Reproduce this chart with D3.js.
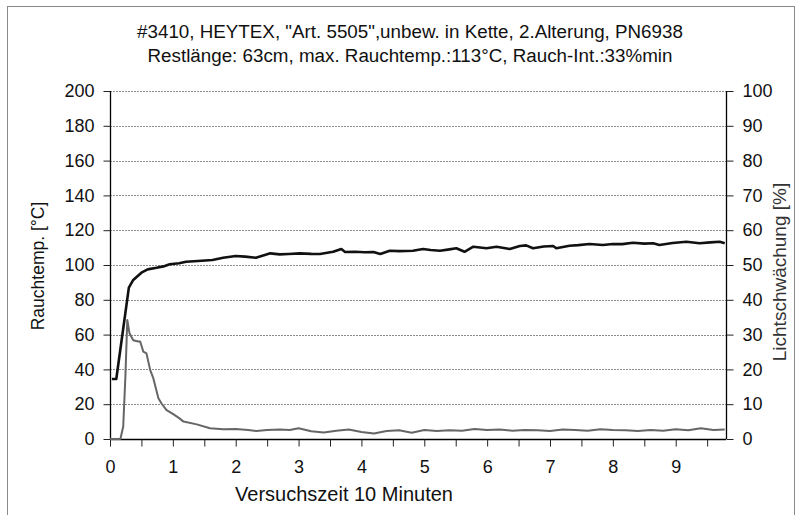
<!DOCTYPE html>
<html><head><meta charset="utf-8">
<script src="https://cdn.jsdelivr.net/npm/d3@7"></script>
<style>body{margin:0;background:#fff}svg{display:block}text{font-family:"Liberation Sans",Arial,sans-serif}</style>
</head><body>
<svg id="c" width="796" height="515"></svg>
<script>
const titleLines = ['#3410, HEYTEX, "Art. 5505",unbew. in Kette, 2.Alterung, PN6938',
  'Restlänge: 63cm, max. Rauchtemp.:113°C, Rauch-Int.:33%min'];
const xTitle = "Versuchszeit 10 Minuten";
const yLeftTitle = "Rauchtemp. [°C]";
const yRightTitle = "Lichtschwächung [%]";
const xLabels = [0,1,2,3,4,5,6,7,8,9];
const xTicks = d3.range(0, 9.51, 0.5);
const yLeftTicks = [0,20,40,60,80,100,120,140,160,180,200];
const yRightTicks = [0,10,20,30,40,50,60,70,80,90,100];

// temperature (°C) — left axis
const tempTime = [0.03,0.1,0.3,0.37,0.45,0.5,0.6,0.74,0.85,0.95,1.1,1.21,1.4,1.63,1.8,2.0,2.15,2.32,2.45,2.55,2.7,2.84,3.02,3.2,3.34,3.55,3.68,3.74,3.9,4.05,4.19,4.3,4.45,4.6,4.82,4.98,5.1,5.25,5.4,5.51,5.64,5.78,5.99,6.15,6.36,6.52,6.62,6.73,6.9,7.05,7.1,7.31,7.45,7.63,7.84,8.0,8.15,8.32,8.5,8.64,8.74,8.95,9.17,9.38,9.55,9.7,9.78];
const tempValue = [34.5,34.5,87,91.4,94,95.6,97.5,98.4,99.2,100.4,101,101.9,102.3,102.9,104.2,105.2,104.8,104.2,105.6,106.7,106.1,106.3,106.7,106.4,106.3,107.6,109.2,107.5,107.6,107.3,107.5,106.3,108.2,108.0,108.2,109.2,108.6,108.2,109.0,109.6,107.6,110.5,109.6,110.5,109.2,110.9,111.3,109.6,110.6,110.9,109.6,111.1,111.4,112.1,111.5,112.1,112.0,112.8,112.3,112.5,111.5,112.6,113.4,112.5,113.0,113.4,112.5];

// light attenuation (%) — right axis
const lightTime = [0,0.165,0.21,0.245,0.275,0.31,0.37,0.45,0.48,0.53,0.58,0.64,0.69,0.77,0.82,0.9,1.0,1.1,1.17,1.38,1.59,1.8,2.0,2.2,2.33,2.5,2.7,2.86,3.0,3.2,3.4,3.6,3.8,4.0,4.2,4.4,4.6,4.8,5.0,5.2,5.4,5.6,5.8,6.0,6.2,6.4,6.6,6.8,7.0,7.2,7.4,7.6,7.8,8.0,8.2,8.4,8.6,8.8,9.0,9.2,9.4,9.6,9.78];
const lightValue = [0,0,3.5,18,34.2,30.4,28.4,28,28,25.1,24.6,19.8,17.4,11.7,10.2,8.3,7.2,6.0,5.0,4.2,3.1,2.8,2.9,2.6,2.3,2.6,2.7,2.6,3.1,2.2,1.9,2.4,2.7,2.0,1.6,2.3,2.5,1.8,2.6,2.3,2.5,2.4,2.9,2.6,2.7,2.4,2.6,2.5,2.3,2.7,2.6,2.4,2.8,2.6,2.5,2.3,2.6,2.4,2.8,2.5,3.1,2.6,2.7];

const svg = d3.select("#c");
const L = 110, R = 726, T = 91, B = 439;
const x = d3.scaleLinear().domain([0, 9.8]).range([L, R]);
const yL = d3.scaleLinear().domain([0, 200]).range([B, T]);
const yR = d3.scaleLinear().domain([0, 100]).range([B, T]);

// outer border
svg.append("rect").attr("x",7.5).attr("y",6.5).attr("width",787).attr("height",520)
  .attr("fill","none").attr("stroke","#8a8a8a").attr("stroke-width",1);

// titles
svg.selectAll("text.title").data(titleLines).join("text").attr("class","title")
  .attr("x",410).attr("y",(d,i)=>38+i*24).attr("text-anchor","middle")
  .attr("font-size",18.8).attr("fill","#111").text(d=>d);

// gridlines
svg.append("g").selectAll("line").data(yLeftTicks.slice(1)).join("line")
  .attr("x1",L).attr("x2",R).attr("y1",d=>Math.round(yL(d))+0.5).attr("y2",d=>Math.round(yL(d))+0.5)
  .attr("stroke","#8c8c8c").attr("stroke-width",1).attr("stroke-dasharray","2,1");

// left axis
const gl = svg.append("g").attr("transform",`translate(${L+0.5},0)`)
  .call(d3.axisLeft(yL).tickValues(yLeftTicks).tickSize(7).tickPadding(9));
// right axis
const gr = svg.append("g").attr("transform",`translate(${R+0.5},0)`)
  .call(d3.axisRight(yR).tickValues(yRightTicks).tickSize(7).tickPadding(9));
// bottom axis
const gb = svg.append("g").attr("transform",`translate(0,${B+0.5})`)
  .call(d3.axisBottom(x).tickValues(xTicks).tickSize(7).tickPadding(14)
    .tickFormat(d => xLabels.includes(d) ? String(d) : ""));
[gl,gr,gb].forEach(g=>{
  g.select(".domain").attr("stroke","#000").attr("stroke-width",1.3);
  g.selectAll(".tick line").attr("stroke","#222");
  g.selectAll(".tick text").attr("font-size",18).attr("fill","#111")
   .attr("font-family",'"Liberation Sans",Arial,sans-serif');
});
gl.select(".domain").attr("d",`M0,${B}V${T}`);
gr.select(".domain").attr("d",`M0,${B}V${T}`);
gb.select(".domain").attr("d",`M${L},0H${R}`);

// axis titles
svg.append("text").attr("x",344).attr("y",501).attr("text-anchor","middle")
  .attr("font-size",20).attr("fill","#111").text(xTitle);
svg.append("text").attr("transform","translate(44,266) rotate(-90)").attr("text-anchor","middle")
  .attr("font-size",17.5).attr("fill","#111").text(yLeftTitle);
svg.append("text").attr("transform","translate(786,272) rotate(-90)").attr("text-anchor","middle")
  .attr("font-size",19).attr("fill","#333").text(yRightTitle);

// series
const tempData = tempTime.map((t,i)=>[t,tempValue[i]]);
const lightData = lightTime.map((t,i)=>[t,lightValue[i]]);
svg.append("path").datum(lightData).attr("fill","none").attr("stroke","#666")
  .attr("stroke-width",2).attr("stroke-linejoin","round")
  .attr("d", d3.line().x(d=>x(d[0])).y(d=>yR(d[1])));
svg.append("path").datum(tempData).attr("fill","none").attr("stroke","#111")
  .attr("stroke-width",2.6).attr("stroke-linejoin","round")
  .attr("d", d3.line().x(d=>x(d[0])).y(d=>yL(d[1])));
</script>
</body></html>
